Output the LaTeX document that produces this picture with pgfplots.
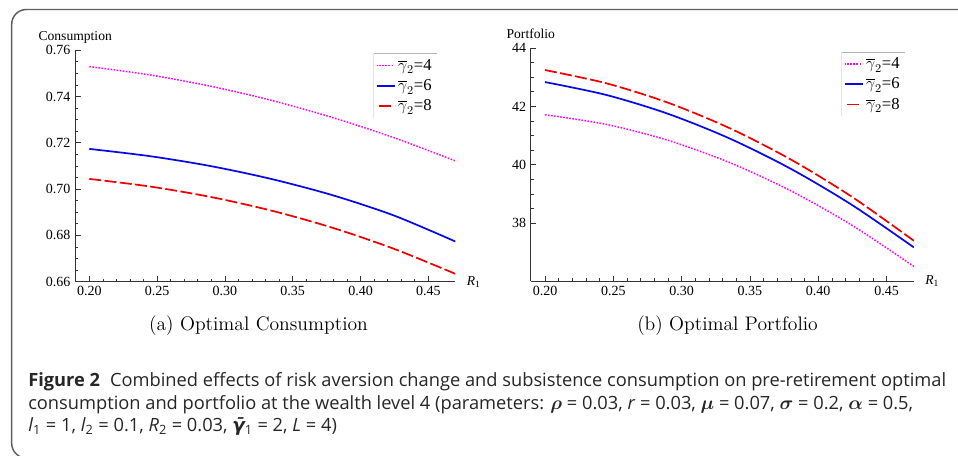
\documentclass[border=0pt]{standalone}
\usepackage{fontspec}
\usepackage{amsmath}
\usepackage{pgfplots}
\pgfplotsset{compat=1.18}
\usepackage{pgfplotstable}
\newfontfamily\tnr{Liberation Serif}
\newfontfamily\capsans{Open Sans}
\newfontfamily\dvs{DejaVu Sans}
\definecolor{magl}{RGB}{255,0,255}
\definecolor{bluel}{RGB}{10,10,230}
\definecolor{redl}{RGB}{240,0,0}
\definecolor{framegray}{RGB}{95,95,95}

% R1, gamma2 = 4, 6, 8
\pgfplotstableread{
R      g4       g6       g8
0.200  0.75293  0.71736  0.70440
0.245  0.74929  0.71420  0.70109
0.290  0.74439  0.70988  0.69654
0.335  0.73823  0.70426  0.69060
0.380  0.73081  0.69725  0.68317
0.425  0.72213  0.68850  0.67412
0.470  0.71218  0.67734  0.66337
}\consdata
\pgfplotstableread{
R      g4      g6      g8
0.200  41.714  42.834  43.246
0.245  41.383  42.391  42.791
0.290  40.838  41.747  42.128
0.335  40.078  40.903  41.257
0.380  39.105  39.858  40.178
0.425  37.917  38.612  38.890
0.470  36.514  37.166  37.394
}\portdata

\pgfplotsset{
  mma/.style={
    scale only axis,
    axis lines*=left,
    axis line style={black!80, line width=0.6pt},
    tick align=inside,
    major tick length=4pt, minor tick length=2.3pt,
    tick style={black!80, line width=0.5pt},
    minor x tick num=4, minor y tick num=3,
    xmin=0.1896, xmax=0.47,
    xtick={0.20,0.25,0.30,0.35,0.40,0.45},
    xticklabel style={/pgf/number format/fixed, /pgf/number format/fixed zerofill, /pgf/number format/precision=2},
    /pgf/number format/assume math mode=true,
    tick label style={font=\tnr\fontsize{10.5}{12}\selectfont},
    label style={font=\tnr\fontsize{10.2}{12}\selectfont},
    xlabel={\textit{R}\textsubscript{1}},
    xlabel style={at={(axis description cs:1,0)}, anchor=west, xshift=5pt},
    ylabel style={rotate=-90, at={(axis description cs:0,1)}, anchor=base, yshift=7.5pt},
    legend cell align=left,
    legend image code/.code={\draw[##1, dash phase=10pt] (0pt,0pt) -- (13pt,0pt);},
    legend style={draw=none, fill=white, anchor=north west,
      font=\tnr\fontsize{12.5}{14}\selectfont,
      inner xsep=2pt, inner ysep=2pt, row sep=1.5pt,
      path picture={\draw[black!30, line width=0.7pt]
        (path picture bounding box.south west) -- (path picture bounding box.north west)
        -- (path picture bounding box.north east);}},
  },
  g4/.style={magl, line width=1.1pt, dash pattern=on 1.2pt off 1.1pt, smooth},
  g6/.style={bluel, line width=1.3pt, smooth},
  g8/.style={redl, line width=1.3pt, dash pattern=on 9pt off 2.5pt, smooth},
}

\begin{document}
\begin{tikzpicture}
\useasboundingbox (0pt,0pt) rectangle (718.5pt,341.25pt);
\begin{scope}[x=0.75pt, y=0.75pt]
\draw[framegray, line width=1.1pt, rounded corners=11pt] (11.7,-3) rectangle (990,445.5);
\end{scope}

\begin{axis}[mma,
  at={(56.4pt,130pt)}, anchor=south west,
  width=285.2pt, height=173.6pt,
  ymin=0.66, ymax=0.76,
  ytick={0.66,0.68,0.70,0.72,0.74,0.76},
  yticklabel style={/pgf/number format/fixed, /pgf/number format/fixed zerofill, /pgf/number format/precision=2},
  ylabel={Consumption},
  legend style={at={(axis description cs:0.7844,0.986)}},
]
\addplot[g4] table[x=R, y=g4] {\consdata};
\addlegendentry{$\overline{\gamma}_2$=4}
\addplot[g6] table[x=R, y=g6] {\consdata};
\addlegendentry{$\overline{\gamma}_2$=6}
\addplot[g8] table[x=R, y=g8] {\consdata};
\addlegendentry{$\overline{\gamma}_2$=8}
\end{axis}

\begin{axis}[mma,
  at={(398.1pt,130.2pt)}, anchor=south west,
  width=287.3pt, height=175pt,
  ymin=36, ymax=44,
  ytick={38,40,42,44},
  ylabel={Portfolio},
  legend style={at={(axis description cs:0.811,0.984)}},
]
\addplot[g4] table[x=R, y=g4] {\portdata};
\addlegendentry{$\overline{\gamma}_2$=4}
\addplot[g6] table[x=R, y=g6] {\portdata};
\addlegendentry{$\overline{\gamma}_2$=6}
\addplot[g8] table[x=R, y=g8] {\portdata};
\addlegendentry{$\overline{\gamma}_2$=8}
\end{axis}

\begin{scope}[x=0.75pt, y=0.75pt]
\node[font=\fontsize{14.7}{17}\selectfont] at (258.5,129) {(a) Optimal Consumption};
\node[font=\fontsize{14.7}{17}\selectfont] at (727.5,129) {(b) Optimal Portfolio};
\node[anchor=base west, inner sep=0pt, text=black!85] at (28,68.3) {\parbox[t]{690pt}{\capsans\fontsize{13.7}{16.9}\selectfont
\textbf{Figure 2}\hspace{0.55em}Combined effects of risk aversion change and subsistence consumption on pre-retirement optimal\\
consumption and portfolio at the wealth level 4 (parameters: $\boldsymbol{\rho}$ = 0.03, \textit{r} = 0.03, $\boldsymbol{\mu}$ = 0.07, $\boldsymbol{\sigma}$ = 0.2, $\boldsymbol{\alpha}$ = 0.5,\\
\textit{l}\textsubscript{1} = 1, \textit{l}\textsubscript{2} = 0.1, \textit{R}\textsubscript{2} = 0.03, {\dvs\bfseries\itshape γ̄}\textsubscript{1} = 2, \textit{L} = 4)}};
\end{scope}
\end{tikzpicture}
\end{document}
